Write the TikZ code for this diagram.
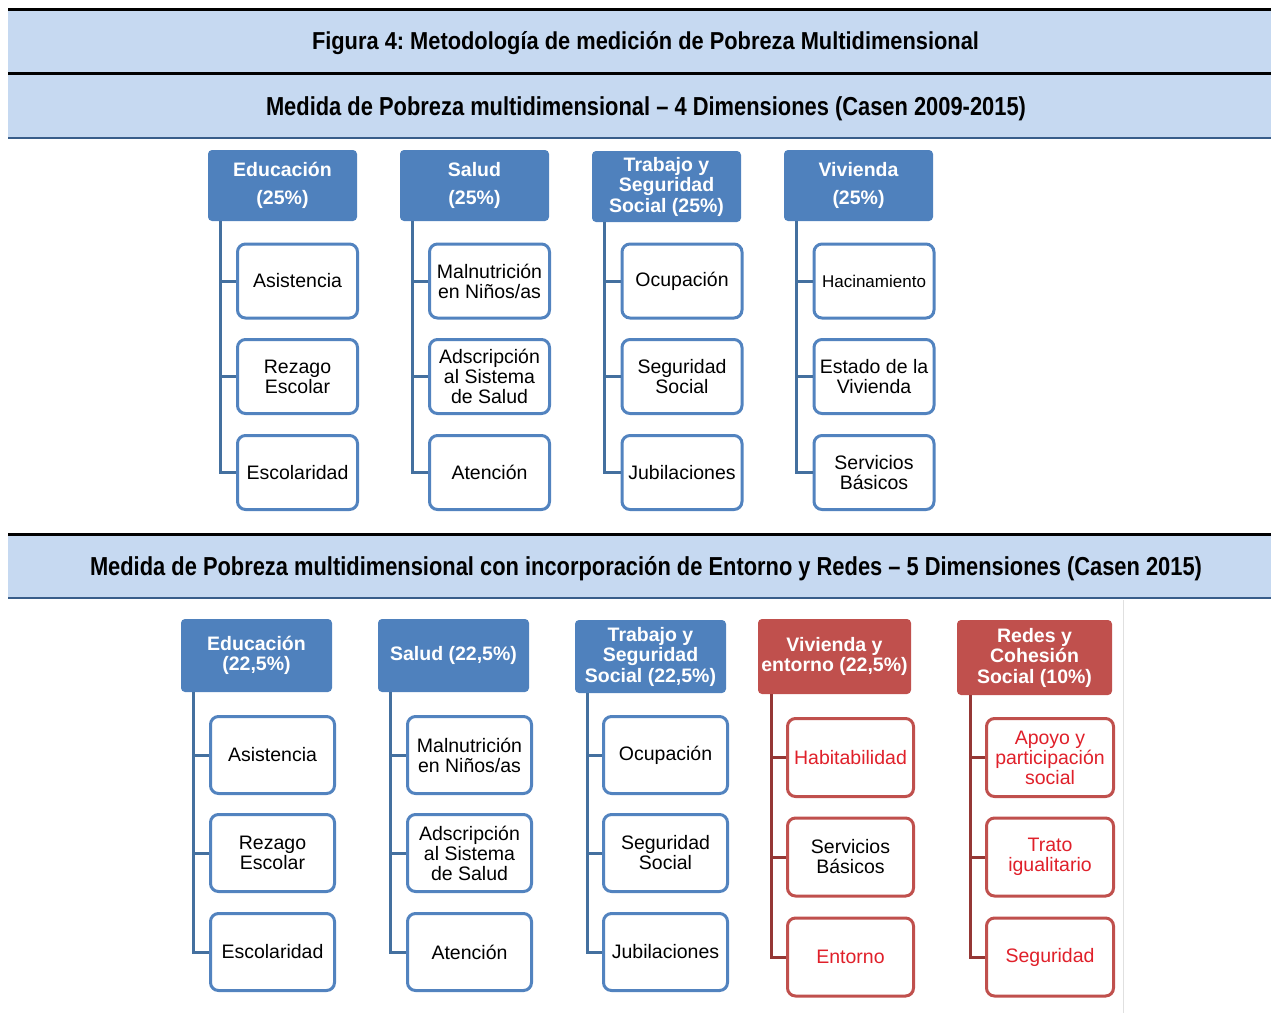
\documentclass[tikz,border=0pt]{standalone}
\usepackage{fontspec}
\setmainfont{Liberation Sans}
\usepackage{graphicx}
\frenchspacing
\definecolor{band}{HTML}{C6D9F1}
\definecolor{bandline}{HTML}{385D8A}
\definecolor{hblue}{HTML}{4F81BD}
\definecolor{kblue}{HTML}{5283BF}
\definecolor{cblue}{HTML}{44709F}
\definecolor{hred}{HTML}{C0504D}
\definecolor{kred}{HTML}{C0504D}
\definecolor{cred}{HTML}{953735}
\definecolor{redtxt}{HTML}{E0202A}
\newcommand\fitx[2]{\setbox0\hbox{#2}\pgfmathsetmacro\fxf{#1/\the\wd0}\scalebox{\fxf}[1]{\box0}}
\tikzset{
  hdr/.style={fill=hblue, rounded corners=4pt, text=white, font=\bfseries\fontsize{19.5}{20.5}\selectfont, align=center, inner sep=0pt, minimum width=149pt, minimum height=71pt},
  hdrred/.style={hdr, fill=hred, minimum width=153pt, minimum height=75pt},
  kid/.style={draw=kblue, line width=3pt, fill=white, rounded corners=8pt, align=center, font=\fontsize{19.5}{20}\selectfont, inner sep=0pt, minimum width=120pt, minimum height=74pt},
  kidb/.style={kid, minimum width=124pt, minimum height=77pt},
  kidr/.style={kidb, draw=kred, minimum width=126pt, minimum height=78pt},
  conn/.style={draw=cblue, line width=3pt},
  connr/.style={draw=cred, line width=3pt},
  bandtxt/.style={font=\bfseries\fontsize{24.5}{25}\selectfont, inner sep=0pt},
  bandtxtb/.style={font=\bfseries\fontsize{26}{27}\selectfont, inner sep=0pt}
}
\begin{document}
\begin{tikzpicture}[x=1pt,y=-1pt]
\useasboundingbox (0,0) rectangle (1271,1013);
% bands
\fill[band] (8,11) rectangle (1271,72);
\fill[band] (8,74.5) rectangle (1271,137);
\fill[band] (8,536) rectangle (1271,597);
\draw[black, line width=2.7pt] (8,9.7) -- (1271,9.7);
\draw[black, line width=3pt] (8,73.3) -- (1271,73.3);
\draw[bandline, line width=2.7pt] (8,138) -- (1271,138);
\draw[black, line width=2.7pt] (8,534.7) -- (1271,534.7);
\draw[bandline, line width=2.7pt] (8,598) -- (1271,598);
\draw[black!12, line width=1pt] (1123,600) -- (1123,1013);
\node[bandtxt] (t1) at (645.5,43.5) {\fitx{667}{Figura 4: Metodología de medición de Pobreza Multidimensional}};
\node[bandtxtb] (t2) at (646,108.5) {\fitx{760}{Medida de Pobreza multidimensional – 4 Dimensiones (Casen 2009-2015)}};
\node[bandtxtb] (t3) at (646,568.5) {\fitx{1112}{Medida de Pobreza multidimensional con incorporación de Entorno y Redes – 5 Dimensiones (Casen 2015)}};

% ---------- top section ----------
\node[hdr] (aE) at (282.5,185.5) {Educación\\[8pt](25\%)};
\node[hdr] (aS) at (474.5,185.5) {Salud\\[8pt](25\%)};
\node[hdr] (aT) at (666.5,186.5) {Trabajo y\\Seguridad\\Social (25\%)};
\node[hdr] (aV) at (858.5,185.5) {Vivienda\\[8pt](25\%)};

\node[kid] (aE1) at (297.5,281) {Asistencia};
\node[kid] (aE2) at (297.5,376.5) {Rezago\\Escolar};
\node[kid] (aE3) at (297.5,472.5) {Escolaridad};
\node[kid] (aS1) at (489.5,281) {Malnutrición\\en Niños/as};
\node[kid] (aS2) at (489.5,376.5) {Adscripción\\al Sistema\\de Salud};
\node[kid] (aS3) at (489.5,472.5) {Atención};
\node[kid] (aT1) at (682,281) {Ocupación};
\node[kid] (aT2) at (682,376.5) {Seguridad\\Social};
\node[kid] (aT3) at (682,472.5) {Jubilaciones};
\node[kid] (aV1) at (874,281) {\fontsize{17}{18}\selectfont Hacinamiento};
\node[kid] (aV2) at (874,376.5) {Estado de la\\Vivienda};
\node[kid] (aV3) at (874,472.5) {Servicios\\Básicos};

\foreach \h in {aE,aS,aT,aV}{
  \draw[conn] ([xshift=13pt]\h.south west) |- (\h3.west);
  \draw[conn] ([xshift=13pt]\h.south west |- \h1.west) -- (\h1.west);
  \draw[conn] ([xshift=13pt]\h.south west |- \h2.west) -- (\h2.west);
}

% ---------- bottom section ----------
\node[hdr, minimum width=151pt, minimum height=73pt] (bE) at (256.5,655.5) {Educación\\(22,5\%)};
\node[hdr, minimum width=151pt, minimum height=73pt] (bS) at (453.5,655.5) {Salud (22,5\%)};
\node[hdr, minimum width=151pt, minimum height=73pt] (bT) at (650.5,656.5) {Trabajo y\\Seguridad\\Social (22,5\%)};
\node[hdrred] (bV) at (834.5,656.5) {Vivienda y\\entorno (22,5\%)};
\node[hdrred, minimum width=155pt] (bR) at (1034.5,657.5) {Redes y\\Cohesión\\Social (10\%)};

\node[kidb] (bE1) at (272.5,755) {Asistencia};
\node[kidb] (bE2) at (272.5,853) {Rezago\\Escolar};
\node[kidb] (bE3) at (272.5,952) {Escolaridad};
\node[kidb] (bS1) at (469.5,755) {Malnutrición\\en Niños/as};
\node[kidb] (bS2) at (469.5,853) {Adscripción\\al Sistema\\de Salud};
\node[kidb] (bS3) at (469.5,952) {Atención};
\node[kidb] (bT1) at (665.5,755) {Ocupación};
\node[kidb] (bT2) at (665.5,853) {Seguridad\\Social};
\node[kidb] (bT3) at (665.5,952) {Jubilaciones};
\node[kidr, text=redtxt] (bV1) at (850.5,757.5) {Habitabilidad};
\node[kidr] (bV2) at (850.5,857) {Servicios\\Básicos};
\node[kidr, text=redtxt] (bV3) at (850.5,957) {Entorno};
\node[kidr, text=redtxt, minimum width=127pt] (bR1) at (1050,757.5) {Apoyo y\\participación\\social};
\node[kidr, text=redtxt, minimum width=127pt] (bR2) at (1050,857) {Trato\\igualitario};
\node[kidr, text=redtxt, minimum width=127pt] (bR3) at (1050,957) {Seguridad};

\foreach \h in {bE,bS,bT}{
  \draw[conn] ([xshift=13pt]\h.south west) |- (\h3.west);
  \draw[conn] ([xshift=13pt]\h.south west |- \h1.west) -- (\h1.west);
  \draw[conn] ([xshift=13pt]\h.south west |- \h2.west) -- (\h2.west);
}
\foreach \h in {bV,bR}{
  \draw[connr] ([xshift=14pt]\h.south west) |- (\h3.west);
  \draw[connr] ([xshift=14pt]\h.south west |- \h1.west) -- (\h1.west);
  \draw[connr] ([xshift=14pt]\h.south west |- \h2.west) -- (\h2.west);
}
\end{tikzpicture}
\end{document}
